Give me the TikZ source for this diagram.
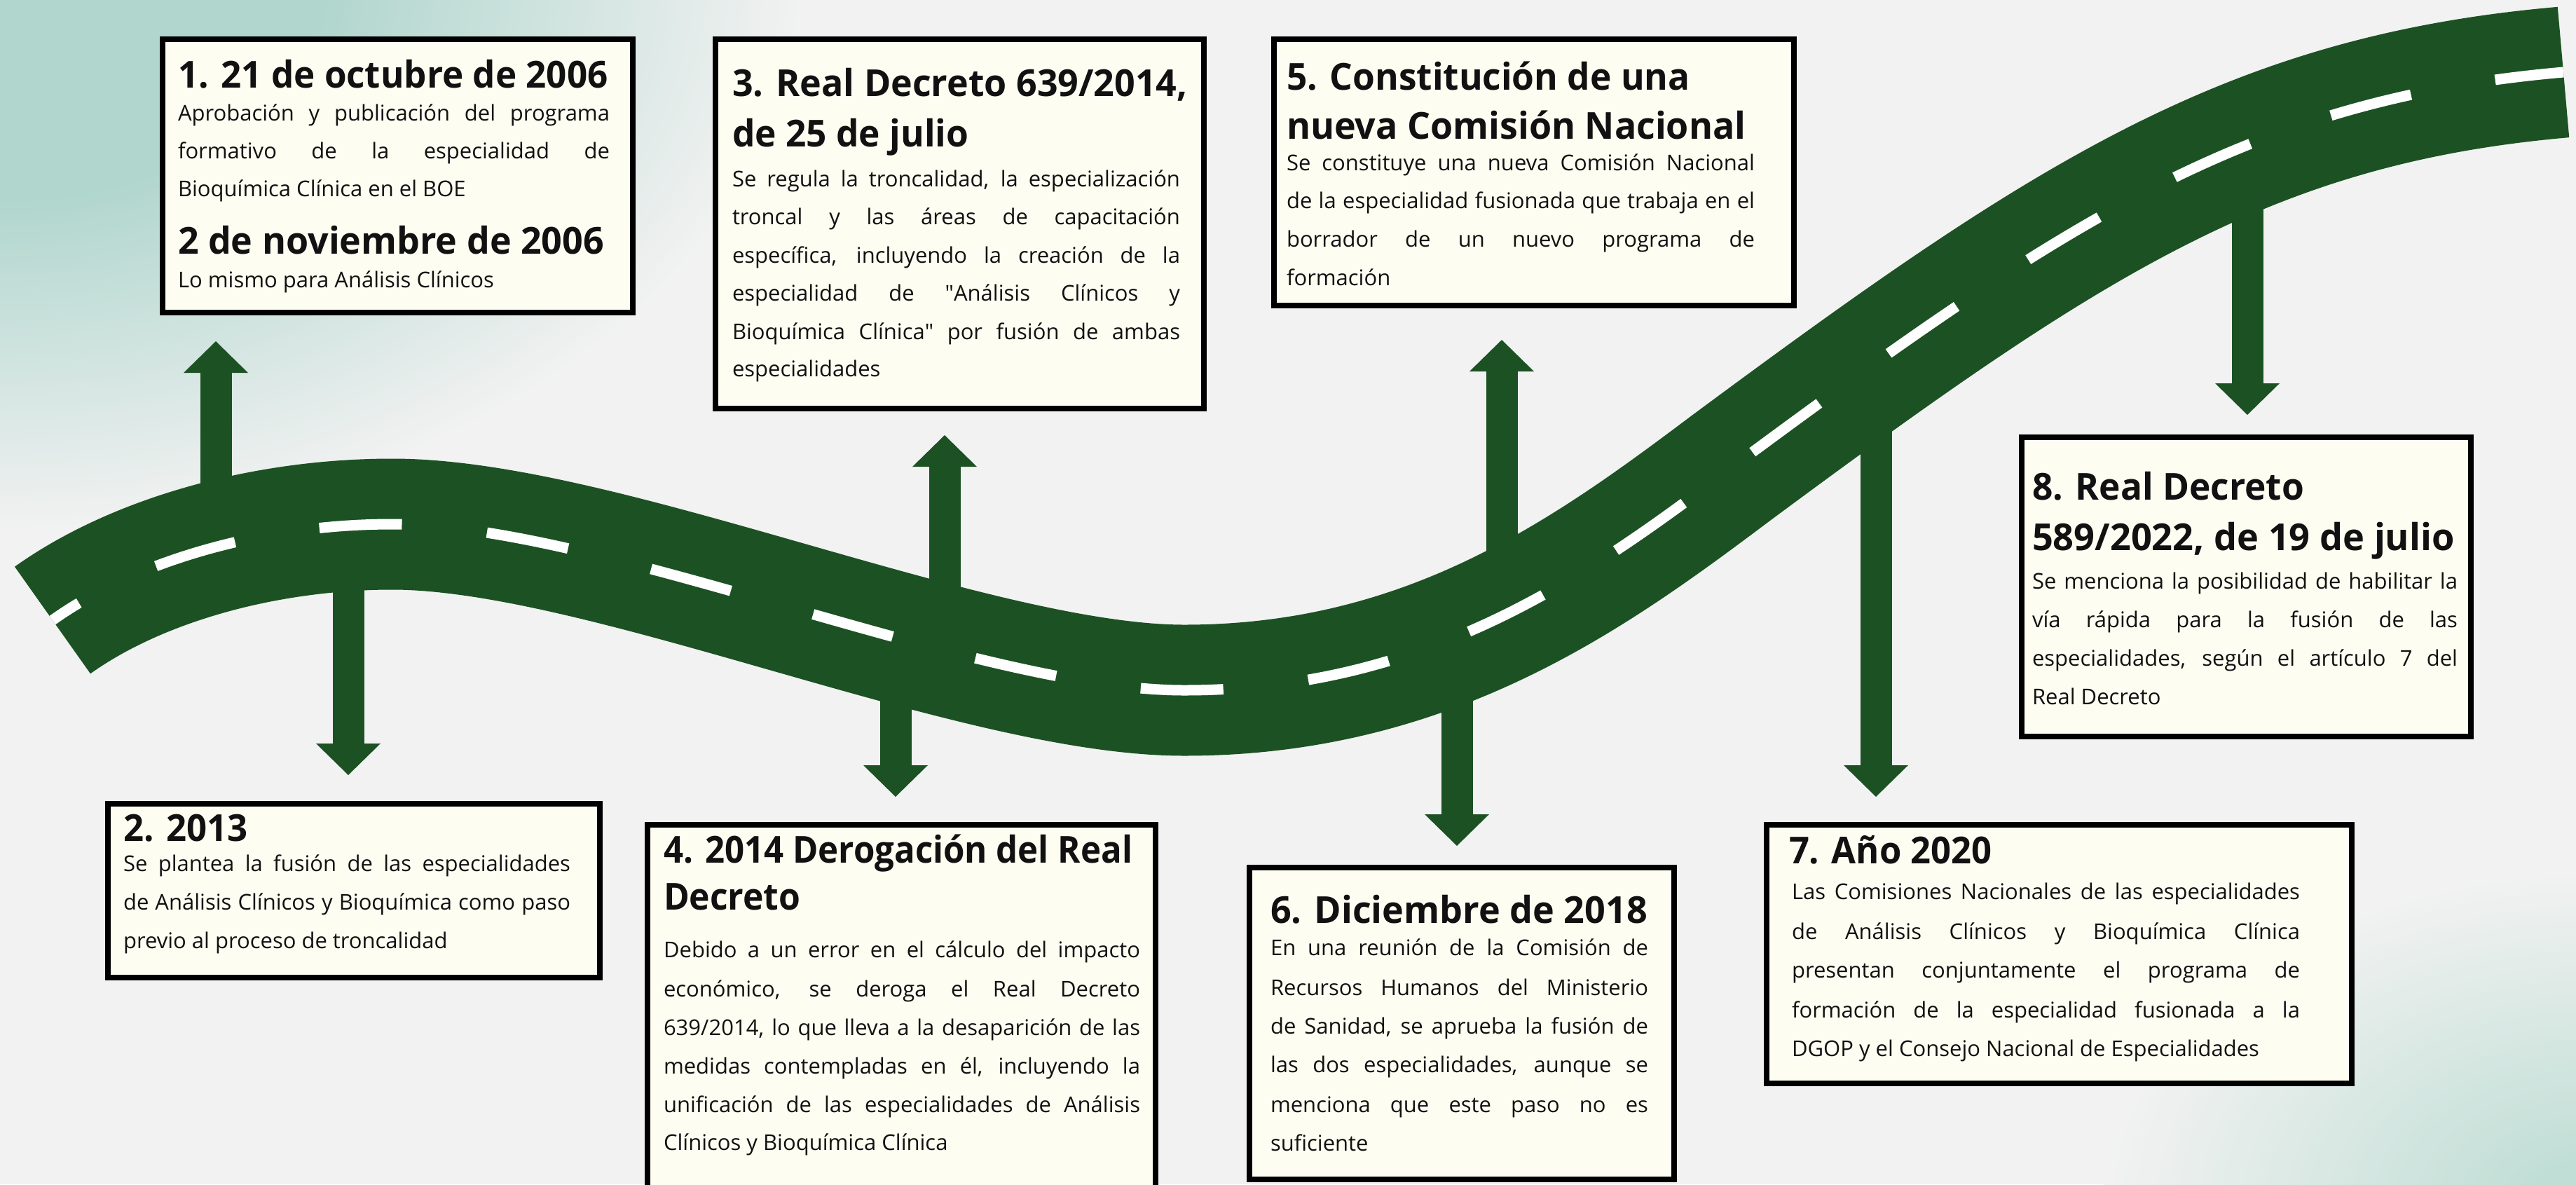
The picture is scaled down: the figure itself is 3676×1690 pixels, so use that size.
\documentclass[tikz,border=0pt]{standalone}
\usepackage{fontspec}
\usepackage{graphicx}
\setmainfont{Open Sans}
\usetikzlibrary{calc}

\definecolor{bgc}{RGB}{242,242,242}
\definecolor{glowc}{RGB}{176,214,205}
\definecolor{glowd}{RGB}{192,222,213}
\definecolor{roadc}{RGB}{28,82,35}
\definecolor{creamc}{RGB}{253,253,242}
\definecolor{inkc}{RGB}{17,17,17}

\pgfdeclareradialshading{glowshade}{\pgfpoint{0bp}{0bp}}{color(0bp)=(glowc); color(10bp)=(glowc); color(25bp)=(bgc); color(50bp)=(bgc)}
\pgfdeclareradialshading{glowshadeb}{\pgfpoint{0bp}{0bp}}{color(0bp)=(glowd); color(3bp)=(glowd); color(25bp)=(bgc); color(50bp)=(bgc)}

\newcommand\tlHead[4]{\node[headtxt] (#1) at (#2) {\scalebox{#3}[1]{#4}};}
\newcommand\tlJust[4]{\node[bodytxt] (#1) at (#2) {\makebox[#3pt][s]{#4}};}
\newcommand\tlLast[3]{\node[bodytxt] (#1) at (#2) {#3};}
\newcommand\sq{\XeTeXglyph\XeTeXcharglyph"0022\relax}

\begin{document}
\begin{tikzpicture}[x=1pt,y=-1pt,
  box/.style={draw=black, line width=8pt, fill=creamc, inner sep=0pt, outer sep=0pt, anchor=north west},
  bodytxt/.style={inner sep=0pt, outer sep=0pt, anchor=base west, text=inkc, font=\fontsize{31}{31}\selectfont},
  headtxt/.style={inner sep=0pt, outer sep=0pt, anchor=base west, text=inkc, font=\fontsize{53}{53}\selectfont\bfseries},
  stem/.style={draw=roadc, line width=45pt},
  tipc/.style={fill=roadc},
  road/.style={draw=roadc, line width=187pt},
  lane/.style={draw=white, line width=15pt, dash pattern=on 118pt off 122pt, dash phase=73pt}
]
\useasboundingbox (0,0) rectangle (3676,1690);
\fill[bgc] (0,0) rectangle (3676,1690);
\begin{scope}
  \clip (0,0) rectangle (3676,1690);
  \shade[shading=glowshade] (0,-40) ellipse (1150 and 800);
  \shade[shading=glowshadeb] (3700,1720) ellipse (700 and 480);
\end{scope}

% arrows (behind the road)
\coordinate (r1) at (308,781);  \coordinate (h1) at (308,530);  \coordinate (t1) at (308,487);
\coordinate (r2) at (497,750);  \coordinate (h2) at (497,1063); \coordinate (t2) at (497,1106);
\coordinate (r3) at (1348,930); \coordinate (h3) at (1348,664); \coordinate (t3) at (1348,621);
\coordinate (r4) at (1278,921); \coordinate (h4) at (1278,1094);\coordinate (t4) at (1278,1137);
\coordinate (r5) at (2143,885); \coordinate (h5) at (2143,528); \coordinate (t5) at (2143,485);
\coordinate (r6) at (2079,912); \coordinate (h6) at (2079,1164);\coordinate (t6) at (2079,1207);
\coordinate (r7) at (2677,517); \coordinate (h7) at (2677,1094);\coordinate (t7) at (2677,1137);
\coordinate (r8) at (3207,207); \coordinate (h8) at (3207,549); \coordinate (t8) at (3207,592);

\foreach \i in {1,3,5}{
  \draw[stem] (r\i) -- (h\i);
  \fill[tipc] (t\i) -- ++(-46,45) -- ++(92,0) -- cycle;
}
\foreach \i in {2,4,6,7,8}{
  \draw[stem] (r\i) -- (h\i);
  \fill[tipc] (t\i) -- ++(-46,-45) -- ++(92,0) -- cycle;
}

% road
\draw[road] (75,885) .. controls (197,798) and (380,748) .. (560,748)
  .. controls (860,748) and (1390,985) .. (1690,985)
  .. controls (2040,985) and (2269,819) .. (2470,668)
  .. controls (2952,311) and (3210,142) .. (3658,103);
\draw[lane] (75,885) .. controls (197,798) and (380,748) .. (560,748)
  .. controls (860,748) and (1390,985) .. (1690,985)
  .. controls (2040,985) and (2269,819) .. (2470,668)
  .. controls (2952,311) and (3210,142) .. (3658,103);

% boxes
\node[box, minimum width=671pt, minimum height=390pt] (b1) at (232,56) {};
\node[box, minimum width=702pt, minimum height=248pt] (b2) at (154,1147) {};
\node[box, minimum width=697pt, minimum height=527pt] (b3) at (1021,56) {};
\node[box, minimum width=725pt, minimum height=560pt] (b4) at (924,1177) {};
\node[box, minimum width=742pt, minimum height=380pt] (b5) at (1818,56) {};
\node[box, minimum width=606pt, minimum height=445pt] (b6) at (1783,1238) {};
\node[box, minimum width=835pt, minimum height=369pt] (b7) at (2521,1177) {};
\node[box, minimum width=641pt, minimum height=427pt] (b8) at (2885,624) {};

% box 1
\tlHead{t1a}{254,125}{0.965}{1. 21 de octubre de 2006}
\tlJust{x1a}{254,172}{616}{Aprobación y publicación del programa}
\tlJust{x1b}{254,226}{616}{formativo de la especialidad de}
\tlLast{x1c}{254,280}{Bioquímica Clínica en el BOE}
\tlHead{t1b}{254,362}{0.98}{2 de noviembre de 2006}
\tlLast{x1d}{254,410}{Lo mismo para Análisis Clínicos}

% box 2
\tlHead{t2}{176,1200}{0.96}{2. 2013}
\tlJust{x2a}{176,1243}{638}{Se plantea la fusión de las especialidades}
\tlJust{x2b}{176,1298}{638}{de Análisis Clínicos y Bioquímica como paso}
\tlLast{x2c}{176,1353}{previo al proceso de troncalidad}

% box 3
\tlHead{t3a}{1045,137}{0.98}{3. Real Decreto 639/2014,}
\tlHead{t3b}{1045,209}{0.97}{de 25 de julio}
\tlJust{x3a}{1045,266}{639}{Se regula la troncalidad, la especialización}
\tlJust{x3b}{1045,320}{639}{troncal y las áreas de capacitación}
\tlJust{x3c}{1045,375}{639}{específica, incluyendo la creación de la}
\tlJust{x3d}{1045,429}{639}{especialidad de \sq Análisis Clínicos y}
\tlJust{x3e}{1045,484}{639}{Bioquímica Clínica\sq{} por fusión de ambas}
\tlLast{x3f}{1045,537}{especialidades}

% box 4
\tlHead{t4a}{947,1231}{0.928}{4. 2014 Derogación del Real}
\tlHead{t4b}{947,1298}{0.94}{Decreto}
\tlJust{x4a}{947,1366}{680}{Debido a un error en el cálculo del impacto}
\tlJust{x4b}{947,1422}{680}{económico, se deroga el Real Decreto}
\tlJust{x4c}{947,1477}{680}{639/2014, lo que lleva a la desaparición de las}
\tlJust{x4d}{947,1532}{680}{medidas contempladas en él, incluyendo la}
\tlJust{x4e}{947,1587}{680}{unificación de las especialidades de Análisis}
\tlLast{x4f}{947,1641}{Clínicos y Bioquímica Clínica}

% box 5
\tlHead{t5a}{1836,128}{0.97}{5. Constitución de una}
\tlHead{t5b}{1836,198}{0.98}{nueva Comisión Nacional}
\tlJust{x5a}{1836,243}{668}{Se constituye una nueva Comisión Nacional}
\tlJust{x5b}{1836,297}{668}{de la especialidad fusionada que trabaja en el}
\tlJust{x5c}{1836,352}{668}{borrador de un nuevo programa de}
\tlLast{x5d}{1836,407}{formación}

% box 6
\tlHead{t6}{1813,1317}{0.983}{6. Diciembre de 2018}
\tlJust{x6a}{1813,1363}{539}{En una reunión de la Comisión de}
\tlJust{x6b}{1813,1420}{539}{Recursos Humanos del Ministerio}
\tlJust{x6c}{1813,1475}{539}{de Sanidad, se aprueba la fusión de}
\tlJust{x6d}{1813,1530}{539}{las dos especialidades, aunque se}
\tlJust{x6e}{1813,1587}{539}{menciona que este paso no es}
\tlLast{x6f}{1813,1642}{suficiente}

% box 7
\tlHead{t7}{2553,1232}{0.957}{7. Año 2020}
\tlJust{x7a}{2557,1283}{725}{Las Comisiones Nacionales de las especialidades}
\tlJust{x7b}{2557,1340}{725}{de Análisis Clínicos y Bioquímica Clínica}
\tlJust{x7c}{2557,1395}{725}{presentan conjuntamente el programa de}
\tlJust{x7d}{2557,1452}{725}{formación de la especialidad fusionada a la}
\tlLast{x7e}{2557,1507}{DGOP y el Consejo Nacional de Especialidades}

% box 8
\tlHead{t8a}{2900,713}{0.97}{8. Real Decreto}
\tlHead{t8b}{2900,785}{0.987}{589/2022, de 19 de julio}
\tlJust{x8a}{2900,840}{607}{Se menciona la posibilidad de habilitar la}
\tlJust{x8b}{2900,895}{607}{vía rápida para la fusión de las}
\tlJust{x8c}{2900,950}{607}{especialidades, según el artículo 7 del}
\tlLast{x8d}{2900,1005}{Real Decreto}
\end{tikzpicture}
\end{document}
